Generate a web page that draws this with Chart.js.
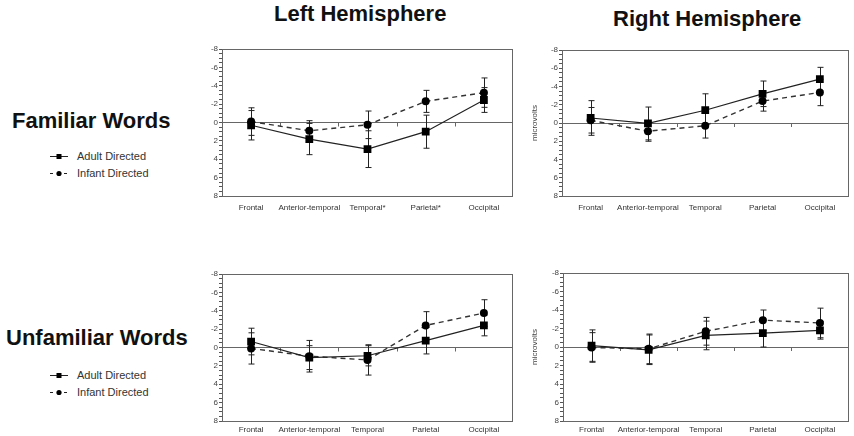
<!DOCTYPE html>
<html>
<head>
<meta charset="utf-8">
<script src="https://cdn.jsdelivr.net/npm/chart.js@4"></script>
<style>
  body { margin: 0; background: #fff; }
  #page { position: relative; width: 854px; height: 436px; overflow: hidden; font-family: "Liberation Sans", Arial, sans-serif; color: #111; }
  .title { position: absolute; font-weight: bold; font-size: 22px; line-height: 22px; white-space: nowrap; }
  .row { position: absolute; font-weight: bold; font-size: 22px; line-height: 22px; white-space: nowrap; }
  .leg { position: absolute; font-size: 11px; line-height: 11px; color: #333; white-space: nowrap; }
  .leg svg { position: absolute; left: -29px; top: 0; }
  canvas { position: absolute; }
</style>
</head>
<body>
<div id="page">
  <div class="title" style="left:274px; top:3px;">Left Hemisphere</div>
  <div class="title" style="left:613px; top:8px;">Right Hemisphere</div>

  <div class="row" style="left:12px; top:110px;">Familiar Words</div>
  <div class="leg" style="left:77px; top:151px;">
    <svg width="22" height="11"><line x1="2" y1="5.5" x2="20" y2="5.5" stroke="#222" stroke-width="1"/><rect x="8.5" y="3" width="5" height="5" fill="#000"/></svg>Adult Directed</div>
  <div class="leg" style="left:77px; top:168px;">
    <svg width="22" height="11"><line x1="2" y1="5.5" x2="20" y2="5.5" stroke="#222" stroke-width="1" stroke-dasharray="3,4"/><circle cx="11" cy="5.5" r="2.6" fill="#000"/></svg>Infant Directed</div>

  <div class="row" style="left:6px; top:327px;">Unfamiliar Words</div>
  <div class="leg" style="left:77px; top:370px;">
    <svg width="22" height="11"><line x1="2" y1="5.5" x2="20" y2="5.5" stroke="#222" stroke-width="1"/><rect x="8.5" y="3" width="5" height="5" fill="#000"/></svg>Adult Directed</div>
  <div class="leg" style="left:77px; top:387px;">
    <svg width="22" height="11"><line x1="2" y1="5.5" x2="20" y2="5.5" stroke="#222" stroke-width="1" stroke-dasharray="3,4"/><circle cx="11" cy="5.5" r="2.6" fill="#000"/></svg>Infant Directed</div>

  <canvas id="famLeft" width="330" height="175" style="left:190px; top:40px;"></canvas>
  <canvas id="famRight" width="334" height="175" style="left:520px; top:40px;"></canvas>
  <canvas id="unfLeft" width="330" height="172" style="left:190px; top:264px;"></canvas>
  <canvas id="unfRight" width="334" height="172" style="left:520px; top:264px;"></canvas>
</div>

<script>
const regions = ["Frontal", "Anterior-temporal", "Temporal", "Parietal", "Occipital"];
const regionsMarked = ["Frontal", "Anterior-temporal", "Temporal*", "Parietal*", "Occipital"];
const seriesNames = ["Adult Directed", "Infant Directed"];

// microvolts, negative is up
const famLeftAdult = [0.3, 1.8, 2.9, 1.0, -2.45];
const famLeftAdultErr = [1.6, 1.7, 2.0, 1.8, 1.35];
const famLeftInfant = [-0.1, 0.9, 0.25, -2.3, -3.25];
const famLeftInfantErr = [1.5, 1.1, 1.5, 1.2, 1.6];

const famRightAdult = [-0.55, 0.05, -1.4, -3.2, -4.8];
const famRightAdultErr = [1.9, 1.8, 1.8, 1.4, 1.3];
const famRightInfant = [-0.3, 0.9, 0.3, -2.4, -3.35];
const famRightInfantErr = [1.4, 1.1, 1.35, 1.1, 1.45];

const unfLeftAdult = [-0.65, 1.1, 0.9, -0.75, -2.4];
const unfLeftAdultErr = [1.45, 1.3, 1.1, 1.45, 1.13];
const unfLeftInfant = [0.1, 0.95, 1.35, -2.4, -3.75];
const unfLeftInfantErr = [1.7, 1.72, 1.65, 1.5, 1.45];

const unfRightAdult = [-0.15, 0.3, -1.25, -1.5, -1.8];
const unfRightAdultErr = [1.7, 1.6, 1.55, 1.5, 0.95];
const unfRightInfant = [0.05, 0.2, -1.7, -2.9, -2.6];
const unfRightInfantErr = [1.6, 1.6, 1.5, 1.1, 1.6];

Chart.defaults.font.family = '"Liberation Sans", Arial, sans-serif';
Chart.defaults.animation = false;

// frame, small ticks on the zero line, error bars
const extras = {
  id: "extras",
  beforeDatasetsDraw(chart) {
    const { ctx, chartArea: a } = chart;
    const x = chart.scales.x, y = chart.scales.y;
    ctx.save();
    ctx.strokeStyle = "#666";
    ctx.lineWidth = 1;
    ctx.strokeRect(Math.round(a.left) + 0.5, Math.round(a.top) + 0.5, Math.round(a.width) - 1, Math.round(a.height));

    const y0 = y.getPixelForValue(0);
    ctx.beginPath();
    for (let i = 1; i < chart.data.labels.length; i++) {
      const xm = Math.round((x.getPixelForValue(i - 1) + x.getPixelForValue(i)) / 2) + 0.5;
      ctx.moveTo(xm, y0);
      ctx.lineTo(xm, y0 + 4);
    }
    ctx.stroke();

    ctx.strokeStyle = "#222";
    chart.data.datasets.forEach((ds, di) => {
      const meta = chart.getDatasetMeta(di);
      meta.data.forEach((pt, i) => {
        const v = ds.data[i], e = ds.errors[i];
        const yt = y.getPixelForValue(v - e), yb = y.getPixelForValue(v + e);
        const xp = Math.round(pt.x) + 0.5;
        ctx.beginPath();
        ctx.moveTo(xp, yt); ctx.lineTo(xp, yb);
        ctx.moveTo(xp - 3, yt); ctx.lineTo(xp + 3, yt);
        ctx.moveTo(xp - 3, yb); ctx.lineTo(xp + 3, yb);
        ctx.stroke();
      });
    });
    ctx.restore();
  }
};

function makeChart(id, labels, adult, adultErr, infant, infantErr, opts) {
  const ctx = document.getElementById(id).getContext("2d");
  return new Chart(ctx, {
    type: "line",
    data: {
      labels: labels,
      datasets: [{
        label: seriesNames[0],
        data: adult,
        errors: adultErr,
        borderColor: "#222",
        borderWidth: 1.2,
        pointStyle: "rect",
        pointRadius: 5.5,
        pointBackgroundColor: "#000",
        pointBorderWidth: 0,
        tension: 0
      }, {
        label: seriesNames[1],
        data: infant,
        errors: infantErr,
        borderColor: "#333",
        borderWidth: 1.4,
        borderDash: [5, 4],
        pointStyle: "circle",
        pointRadius: 4,
        pointBackgroundColor: "#000",
        pointBorderWidth: 0,
        tension: 0
      }]
    },
    options: {
      responsive: false,
      devicePixelRatio: 1,
      layout: { padding: { top: opts.top, right: opts.right, left: 0, bottom: 0 } },
      plugins: { legend: { display: false }, tooltip: { enabled: false } },
      scales: {
        x: {
          type: "category",
          offset: true,
          grid: { display: false, drawTicks: false },
          border: { display: false },
          ticks: { color: "#333", font: { size: 8 }, padding: opts.labelPad, maxRotation: 0, autoSkip: false },
          afterFit(scale) { scale.height = opts.xHeight; }
        },
        y: {
          reverse: true,
          min: -8,
          max: 8,
          grid: {
            color: c => (c.tick && c.tick.value === 0) ? "#666" : "rgba(0,0,0,0)",
            tickColor: "#555",
            tickLength: 3,
            lineWidth: 1
          },
          border: { display: true, color: "#666" },
          ticks: {
            stepSize: 0.5,
            autoSkip: false,
            color: "#444",
            font: { size: 8 },
            padding: 1,
            callback: v => (v % 2 === 0 ? String(v) : "")
          },
          title: {
            display: opts.yTitle,
            text: "microvolts",
            color: "#444",
            font: { size: 8 },
            padding: { top: 10, bottom: 0 }
          },
          afterFit(scale) { scale.width = opts.yWidth; }
        }
      }
    },
    plugins: [extras]
  });
}

makeChart("famLeft", regionsMarked, famLeftAdult, famLeftAdultErr, famLeftInfant, famLeftInfantErr,
  { top: 9, right: 7, yWidth: 32, xHeight: 19, labelPad: 7, yTitle: false });
makeChart("famRight", regions, famRightAdult, famRightAdultErr, famRightInfant, famRightInfantErr,
  { top: 10, right: 0, yWidth: 42, xHeight: 19, labelPad: 7, yTitle: true });
makeChart("unfLeft", regions, unfLeftAdult, unfLeftAdultErr, unfLeftInfant, unfLeftInfantErr,
  { top: 10, right: 7, yWidth: 32, xHeight: 15, labelPad: 4, yTitle: false });
makeChart("unfRight", regions, unfRightAdult, unfRightAdultErr, unfRightInfant, unfRightInfantErr,
  { top: 9, right: 0, yWidth: 43, xHeight: 15, labelPad: 4, yTitle: true });
</script>
</body>
</html>
